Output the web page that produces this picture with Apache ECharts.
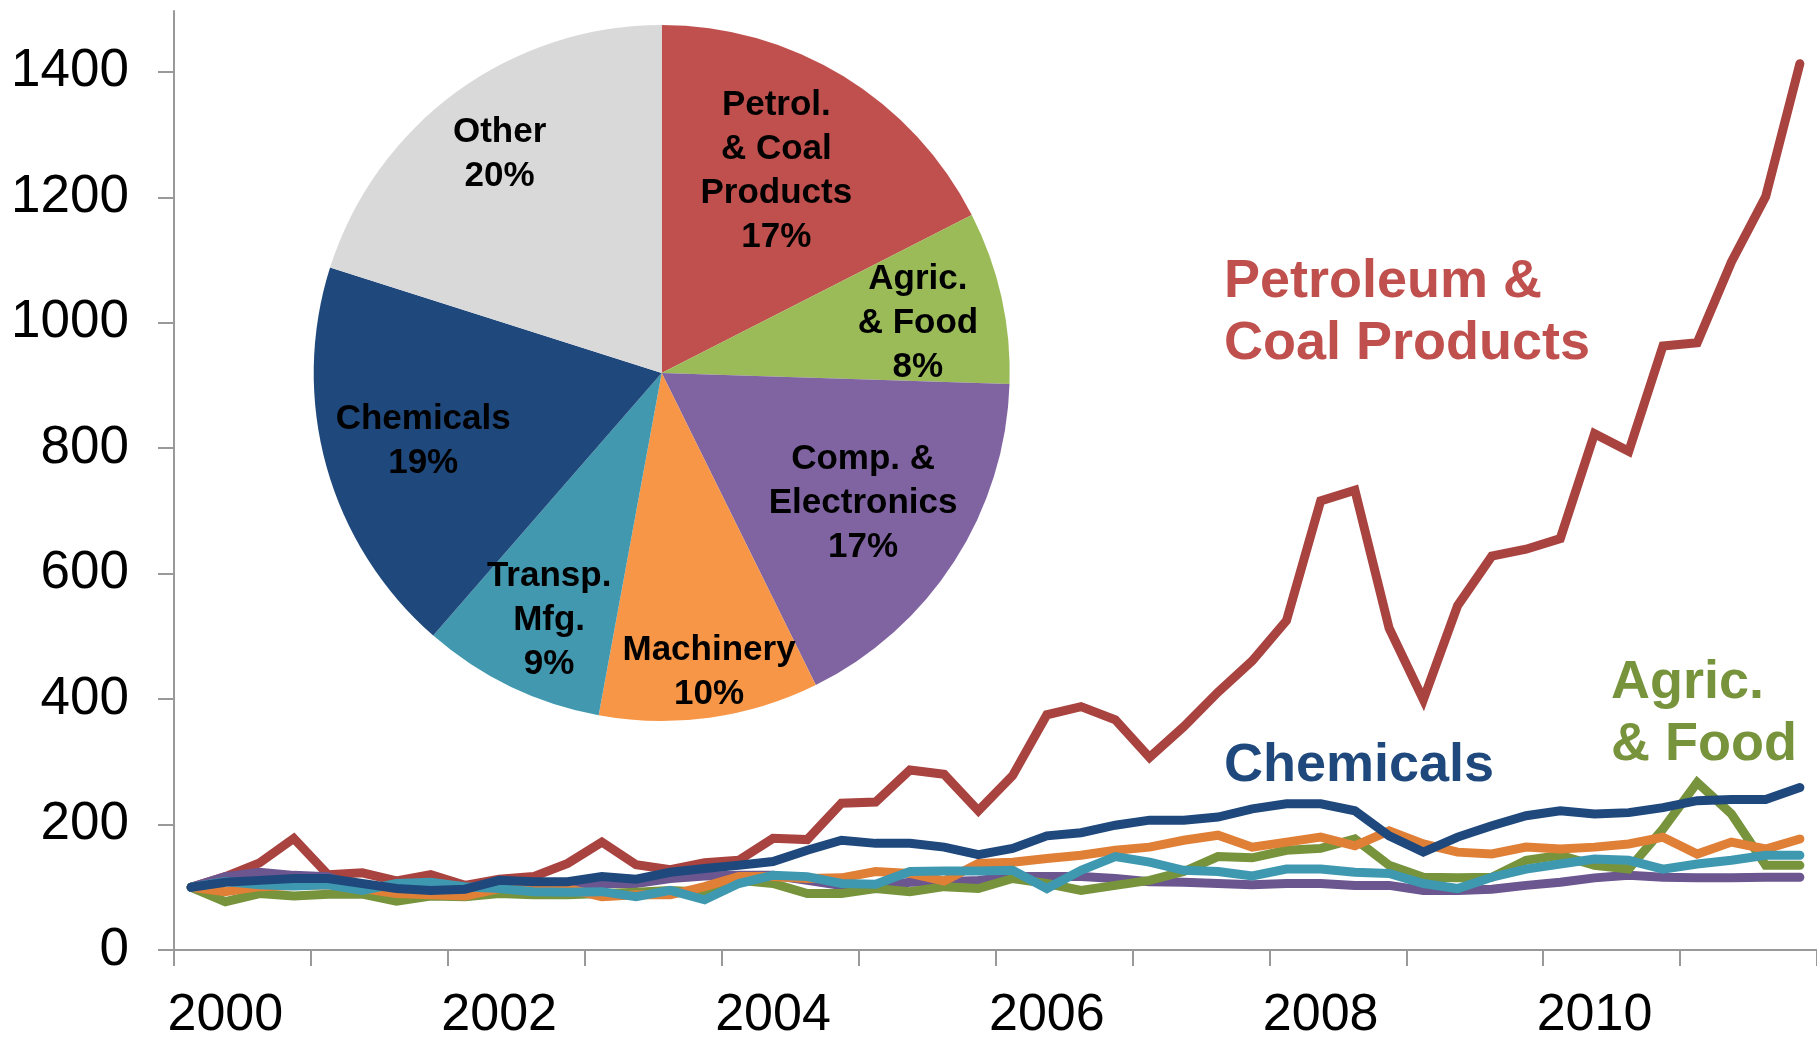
<!DOCTYPE html>
<html>
<head>
<meta charset="utf-8">
<script src="https://cdn.jsdelivr.net/npm/echarts@6/dist/echarts.min.js"></script>
<style>
  html, body { margin: 0; padding: 0; background: #fff; }
  #chart { width: 1817px; height: 1042px; }
</style>
</head>
<body>
<div id="chart"></div>
<script>
// quarterly index, 2000 Q1 = 100
const quarters = [
  '2000Q1', '2000Q2', '2000Q3', '2000Q4', '2001Q1', '2001Q2', '2001Q3', '2001Q4',
  '2002Q1', '2002Q2', '2002Q3', '2002Q4', '2003Q1', '2003Q2', '2003Q3', '2003Q4',
  '2004Q1', '2004Q2', '2004Q3', '2004Q4', '2005Q1', '2005Q2', '2005Q3', '2005Q4',
  '2006Q1', '2006Q2', '2006Q3', '2006Q4', '2007Q1', '2007Q2', '2007Q3', '2007Q4',
  '2008Q1', '2008Q2', '2008Q3', '2008Q4', '2009Q1', '2009Q2', '2009Q3', '2009Q4',
  '2010Q1', '2010Q2', '2010Q3', '2010Q4', '2011Q1', '2011Q2', '2011Q3', '2011Q4'
]
const valueTicks = [0, 200, 400, 600, 800, 1000, 1200, 1400]

const petroleum = [100, 117, 139, 178, 120, 123, 110, 120, 103, 113, 117, 138, 172, 136, 128, 139,
  143, 178, 176, 234, 236, 287, 280, 222, 278, 375, 388, 367, 307, 356, 411, 461,
  525, 716, 733, 513, 399, 549, 628, 639, 656, 823, 795, 963, 968, 1097, 1201, 1413]
const chemicals = [100, 108, 111, 114, 114, 106, 98, 95, 97, 111, 109, 109, 117, 113, 124, 130,
  135, 141, 159, 175, 170, 170, 164, 152, 162, 182, 187, 199, 207, 207, 212, 225,
  233, 233, 222, 182, 156, 180, 198, 214, 222, 217, 219, 227, 238, 240, 240, 259]
const agricFood = [100, 77, 90, 86, 89, 89, 78, 86, 85, 90, 88, 88, 90, 92, 95, 92,
  111, 106, 90, 90, 98, 93, 101, 98, 114, 106, 95, 103, 111, 125, 149, 147,
  159, 162, 177, 135, 116, 115, 116, 143, 151, 135, 129, 193, 267, 217, 135, 135]
const machinery = [100, 93, 101, 103, 104, 98, 90, 88, 86, 98, 101, 98, 85, 88, 88, 101,
  117, 117, 114, 115, 125, 122, 110, 138, 140, 146, 151, 159, 164, 175, 183, 164,
  172, 180, 166, 190, 169, 156, 153, 164, 161, 164, 169, 180, 153, 172, 161, 177]
const transport = [100, 109, 104, 102, 104, 95, 106, 108, 101, 98, 93, 92, 93, 85, 95, 80,
  106, 119, 117, 106, 105, 125, 126, 126, 127, 98, 127, 149, 140, 127, 125, 118,
  129, 129, 124, 122, 106, 98, 116, 129, 137, 145, 143, 129, 137, 143, 151, 151]
const computers = [100, 117, 124, 119, 117, 98, 82, 88, 95, 101, 101, 101, 106, 106, 114, 118,
  119, 119, 111, 103, 101, 108, 109, 111, 117, 117, 117, 114, 109, 108, 106, 104,
  106, 106, 103, 103, 95, 95, 97, 103, 108, 115, 119, 116, 115, 115, 116, 116]

// pie: sector sizes, printed shares as labelled
const pieNames = ['Petrol.\n& Coal\nProducts', 'Agric.\n& Food', 'Comp. &\nElectronics',
  'Machinery', 'Transp.\nMfg.', 'Chemicals', 'Other']
const pieSlices = [17.5, 8.0, 17.2, 10.2, 8.5, 18.5, 20.1]
const pieShares = [17, 8, 17, 10, 9, 19, 20]

const FONT = '"Liberation Sans", Arial, sans-serif'
const pieColors = ['#C0504D', '#9BBB59', '#8064A2', '#F79646', '#4198AF', '#1F497D', '#D9D9D9']
const pieCenter = [661.7, 373]
const pieRadius = 348
// label spot per slice: [fraction of radius, degrees clockwise from top]
const labelSpots = [[0.667, 29.6], [0.75, 79], [0.69, 123], [0.87, 171], [0.78, 204.5], [0.713, 254], [0.783, 323.5]]

const lineSeries = [
  { name: 'Petroleum & Coal Products', data: petroleum, color: '#A9433F' },
  { name: 'Comp. & Electronics', data: computers, color: '#6B568F' },
  { name: 'Agric. & Food', data: agricFood, color: '#77933C' },
  { name: 'Machinery', data: machinery, color: '#E07F36' },
  { name: 'Transp. Mfg.', data: transport, color: '#3E98B0' },
  { name: 'Chemicals', data: chemicals, color: '#1F497D' },
]

const chart = echarts.init(document.getElementById('chart'), null, { renderer: 'canvas' })

chart.setOption({
  animation: false,
  backgroundColor: '#ffffff',
  grid: { left: 174, top: 11, width: 1649, height: 944, containLabel: false },
  xAxis: {
    type: 'category',
    data: quarters,
    boundaryGap: true,
    axisLine: { lineStyle: { color: '#999999', width: 2 } },
    axisTick: { show: true, interval: 3, length: 16, lineStyle: { color: '#999999', width: 2 } },
    axisLabel: {
      interval: (index) => index % 8 === 1,
      formatter: (value) => value.slice(0, 4),
      color: '#000',
      fontFamily: FONT,
      fontSize: 52,
      margin: 40,
    },
    splitLine: { show: false },
  },
  yAxis: {
    type: 'value',
    min: 0,
    max: 1497,
    interval: 100,
    axisLine: { show: true, lineStyle: { color: '#999999', width: 2 } },
    axisTick: { show: true, length: 16, customValues: valueTicks, lineStyle: { color: '#999999', width: 2 } },
    axisLabel: {
      customValues: valueTicks,
      formatter: (value) => String(value),
      color: '#000',
      fontFamily: FONT,
      fontSize: 53,
      margin: 45,
    },
    splitLine: { show: false },
  },
  graphic: [
    {
      type: 'text', x: 1224, y: 313, silent: true,
      style: { text: 'Petroleum &\nCoal Products', fill: '#C0504D', font: `bold 54px ${FONT}`, lineHeight: 62, align: 'left', verticalAlign: 'middle' },
    },
    {
      type: 'text', x: 1224, y: 766, silent: true,
      style: { text: 'Chemicals', fill: '#1F497D', font: `bold 54px ${FONT}`, lineHeight: 62, align: 'left', verticalAlign: 'middle' },
    },
    {
      type: 'text', x: 1611, y: 714, silent: true,
      style: { text: 'Agric.\n& Food', fill: '#77933C', font: `bold 54px ${FONT}`, lineHeight: 62, align: 'left', verticalAlign: 'middle' },
    },
  ],
  series: [
    ...lineSeries.map((s) => ({
      name: s.name,
      type: 'line',
      data: s.data,
      showSymbol: false,
      silent: true,
      lineStyle: { color: s.color, width: 9, cap: 'round', join: 'miter' },
      z: 2,
    })),
    {
      name: 'Share',
      type: 'pie',
      center: pieCenter,
      radius: pieRadius,
      startAngle: 90,
      clockwise: true,
      silent: true,
      z: 5,
      itemStyle: { borderWidth: 0 },
      emphasis: { disabled: true },
      label: {
        show: true,
        position: 'inside',
        formatter: (p) => `${pieNames[p.dataIndex]}\n${pieShares[p.dataIndex]}%`,
        color: '#000',
        fontFamily: FONT,
        fontWeight: 'bold',
        fontSize: 35,
        lineHeight: 44,
        align: 'center',
      },
      labelLine: { show: false },
      labelLayout: (params) => {
        const [f, deg] = labelSpots[params.dataIndex]
        const a = deg * Math.PI / 180
        return {
          x: pieCenter[0] + f * pieRadius * Math.sin(a),
          y: pieCenter[1] - f * pieRadius * Math.cos(a),
          align: 'center',
          verticalAlign: 'middle',
        }
      },
      data: pieSlices.map((v, i) => ({ name: pieNames[i], value: v, itemStyle: { color: pieColors[i] } })),
    },
  ],
})
</script>
</body>
</html>
